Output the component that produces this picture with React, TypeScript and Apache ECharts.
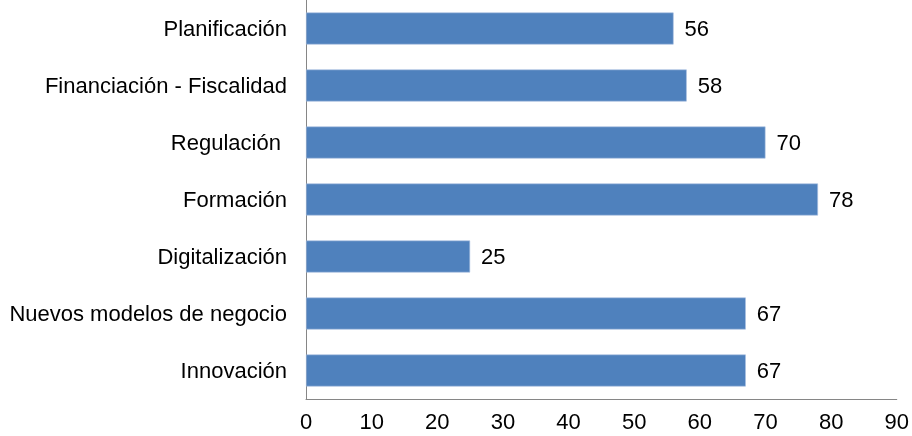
import React, { useEffect, useRef } from "react";
import * as echarts from "echarts";

const categories = [
  "Planificación",
  "Financiación - Fiscalidad",
  "Regulación ",
  "Formación",
  "Digitalización",
  "Nuevos modelos de negocio",
  "Innovación",
];
const values = [56, 58, 70, 78, 25, 67, 67];
const axisMin = 0;
const axisMax = 90;
const axisStep = 10;

export default function App() {
  const ref = useRef<HTMLDivElement>(null);
  useEffect(() => {
    if (!ref.current) return;
    const chart = echarts.init(ref.current, null, { renderer: "svg" });
    const font = "'Liberation Sans', Arial, sans-serif";
    const fs = 22;
    chart.setOption({
      animation: false,
      grid: { left: 306, right: 15, top: 0, bottom: 37, containLabel: false },
      xAxis: {
        type: "value",
        min: axisMin,
        max: axisMax,
        interval: axisStep,
        axisLine: { show: true, lineStyle: { color: "#868686", width: 1 } },
        axisTick: { show: false },
        splitLine: { show: false },
        axisLabel: { color: "#000", fontSize: fs, fontFamily: font, margin: 11 },
      },
      yAxis: {
        type: "category",
        data: categories,
        inverse: true,
        axisLine: { show: true, lineStyle: { color: "#868686", width: 1 } },
        axisTick: { show: false },
        axisLabel: { color: "#000", fontSize: fs, fontFamily: font, margin: 19 },
      },
      series: [
        {
          type: "bar",
          data: values,
          barWidth: 32,
          itemStyle: { color: "#4F81BD", borderColor: "#A9C0E0", borderWidth: 0.6 },
          label: {
            show: true,
            position: "right",
            distance: 11,
            color: "#000",
            fontSize: fs,
            fontFamily: font,
          },
        },
      ],
    });
    return () => chart.dispose();
  }, []);
  return (
    <div
      ref={ref}
      style={{ position: "fixed", left: 0, top: 0, width: 912, height: 436 }}
    />
  );
}
